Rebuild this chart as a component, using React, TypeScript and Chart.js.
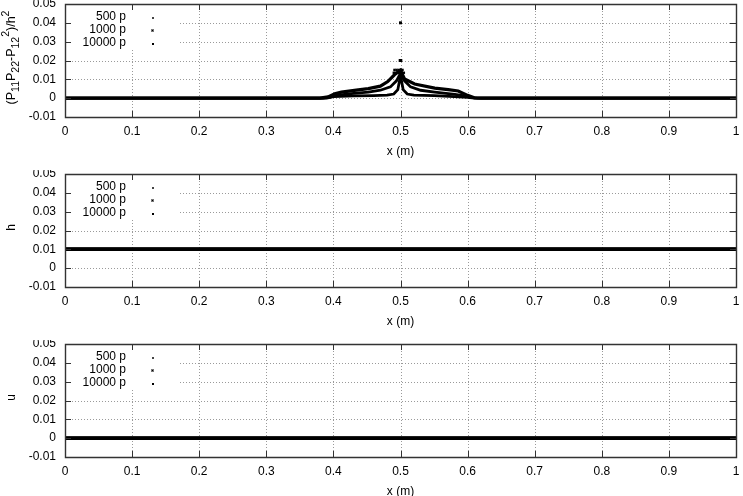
import React, { useEffect, useRef } from "react";
import { Chart, registerables } from "chart.js";

Chart.register(...registerables);

const FONT = '"Liberation Sans", Arial, Helvetica, sans-serif';

// ---- axis ticks ----
const xTickValues = [0, 0.1, 0.2, 0.3, 0.4, 0.5, 0.6, 0.7, 0.8, 0.9, 1];
const xTickLabels = ["0", "0.1", "0.2", "0.3", "0.4", "0.5", "0.6", "0.7", "0.8", "0.9", "1"];
const yTickValues = [-0.01, 0, 0.01, 0.02, 0.03, 0.04, 0.05];
const yTickLabels = ["-0.01", "0", "0.01", "0.02", "0.03", "0.04", "0.05"];
const seriesNames = ["500 p", "1000 p", "10000 p"];

// ---- panel 1 : (P11 P22 - P12^2)/h^2 ----
const det500X = [0, 0.38, 0.392, 0.402, 0.412, 0.437, 0.452, 0.47, 0.481, 0.491, 0.5, 0.506, 0.521, 0.551, 0.571, 0.586, 0.6, 0.61, 0.62, 1];
const det500Y = [0, 0, 0.0007, 0.0023, 0.0032, 0.0044, 0.0051, 0.0064, 0.0088, 0.0124, 0.0148, 0.0102, 0.0075, 0.0053, 0.0045, 0.0038, 0.0015, 0.0002, 0, 0];
const det1000X = [0, 0.385, 0.395, 0.41, 0.43, 0.452, 0.47, 0.485, 0.494, 0.5, 0.506, 0.515, 0.53, 0.551, 0.581, 0.596, 0.607, 0.615, 1];
const det1000Y = [0, 0, 0.0006, 0.0018, 0.0026, 0.0032, 0.0042, 0.006, 0.0092, 0.0132, 0.0092, 0.006, 0.0042, 0.0032, 0.002, 0.0012, 0.0003, 0, 0];
const det10000X = [0, 0.39, 0.4, 0.43, 0.46, 0.48, 0.49, 0.496, 0.5, 0.504, 0.51, 0.52, 0.55, 0.58, 0.6, 0.61, 1];
const det10000Y = [0, 0, 0.0008, 0.0012, 0.0014, 0.0016, 0.0022, 0.0045, 0.012, 0.0045, 0.0022, 0.0016, 0.0014, 0.0008, 0.0004, 0, 0];
// isolated points at the discontinuity
const spike10000X = [0.5, 0.4995, 0.5005];
const spike10000Y = [0.04, 0.02, 0.02];
const spike1000X = [0.491, 0.494, 0.497, 0.5, 0.503];
const spike1000Y = [0.015, 0.015, 0.015, 0.015, 0.015];
const spike500X = [0.49, 0.493, 0.496, 0.499, 0.502, 0.505];
const spike500Y = [0.0135, 0.0135, 0.0135, 0.0135, 0.0135, 0.0135];

// ---- panel 2 : h ----
const hX = [0, 0.25, 0.5, 0.75, 1];
const h500Y = [0.01, 0.01, 0.01, 0.01, 0.01];
const h1000Y = [0.01, 0.01, 0.01, 0.01, 0.01];
const h10000Y = [0.01, 0.01, 0.01, 0.01, 0.01];

// ---- panel 3 : u ----
const uX = [0, 0.25, 0.5, 0.75, 1];
const u500Y = [0, 0, 0, 0, 0];
const u1000Y = [0, 0, 0, 0, 0];
const u10000Y = [0, 0, 0, 0, 0];

const Y_MIN = -0.01;
const Y_MAX = 0.05;
const PLOT_H = 113;
const TOP_PAD = 4;

function pts(xs: number[], ys: number[]) {
  return xs.map((x, i) => ({ x, y: ys[i] }));
}

function lineDs(xs: number[], ys: number[], w = 3.5) {
  return {
    data: pts(xs, ys),
    showLine: true,
    borderColor: "#000",
    borderWidth: w,
    pointRadius: 0,
    tension: 0,
  };
}

function pointDs(xs: number[], ys: number[], r = 1.7) {
  return {
    data: pts(xs, ys),
    showLine: false,
    pointStyle: "rect" as const,
    pointRadius: r,
    pointBorderWidth: 0,
    backgroundColor: "#000",
    borderColor: "#000",
  };
}

type TitleKind = "det" | "h" | "u";

function drawYTitle(ctx: CanvasRenderingContext2D, kind: TitleKind, cy: number) {
  ctx.save();
  ctx.translate(11, cy);
  ctx.rotate(-Math.PI / 2);
  ctx.fillStyle = "#000";
  ctx.textBaseline = "alphabetic";
  ctx.textAlign = "left";
  if (kind !== "det") {
    ctx.font = `12px ${FONT}`;
    ctx.textAlign = "center";
    ctx.fillText(kind, 0, 4);
    ctx.restore();
    return;
  }
  const segs: { t: string; k: number }[] = [
    { t: "(P", k: 0 },
    { t: "11", k: -1 },
    { t: "P", k: 0 },
    { t: "22", k: -1 },
    { t: "-P", k: 0 },
    { t: "12", k: -1 },
    { t: "2", k: 1 },
    { t: ")/h", k: 0 },
    { t: "2", k: 1 },
  ];
  const fontFor = (k: number) => (k === 0 ? `12.5px ${FONT}` : `10.5px ${FONT}`);
  let total = 0;
  for (const s of segs) {
    ctx.font = fontFor(s.k);
    total += ctx.measureText(s.t).width;
  }
  let x = -total / 2;
  for (const s of segs) {
    ctx.font = fontFor(s.k);
    const yOff = s.k === 0 ? 4 : s.k < 0 ? 8 : -2;
    ctx.fillText(s.t, x, yOff);
    x += ctx.measureText(s.t).width;
  }
  ctx.restore();
}

function drawFrame(chart: any) {
  const { ctx, chartArea, scales } = chart;
  const xs = scales.x;
  const ys = scales.y;
  const L = Math.round(chartArea.left);
  const R = Math.round(chartArea.right);
  const T = Math.round(chartArea.top);
  const B = Math.round(chartArea.bottom);
  ctx.save();
  ctx.globalAlpha = 1;
  ctx.globalCompositeOperation = "source-over";
  ctx.setLineDash([]);
  ctx.strokeStyle = "#333333";
  ctx.lineWidth = 1;
  const TL = 6;
  ctx.beginPath();
  for (const v of yTickValues) {
    const py = Math.round(ys.getPixelForValue(v)) + 0.5;
    ctx.moveTo(L, py);
    ctx.lineTo(L + TL, py);
    ctx.moveTo(R, py);
    ctx.lineTo(R - TL, py);
  }
  for (const v of xTickValues) {
    const px = Math.round(xs.getPixelForValue(v)) + 0.5;
    ctx.moveTo(px, B);
    ctx.lineTo(px, B - TL);
    ctx.moveTo(px, T);
    ctx.lineTo(px, T + TL);
  }
  ctx.stroke();
  ctx.lineWidth = 1.4;
  ctx.beginPath();
  ctx.moveTo(L + 0.5, T + 0.5);
  ctx.lineTo(R + 0.5, T + 0.5);
  ctx.lineTo(R + 0.5, B + 0.5);
  ctx.lineTo(L + 0.5, B + 0.5);
  ctx.closePath();
  ctx.stroke();
  ctx.restore();
}

function gnuplotPlugin(kind: TitleKind) {
  return {
    id: "gnuplotLook",
    beforeDatasetsDraw(chart: any) {
      const { ctx, chartArea, scales } = chart;
      const { left, right, top, bottom } = chartArea;
      const xs = scales.x;
      const ys = scales.y;
      ctx.save();
      // dotted grid (drawn as 1px dots)
      ctx.fillStyle = "#9a9a9a";
      for (const v of yTickValues) {
        if (v <= Y_MIN || v >= Y_MAX) continue;
        const py = Math.round(ys.getPixelForValue(v));
        for (let px = Math.round(left) + 1; px < right; px += 3) ctx.fillRect(px, py, 1, 1);
      }
      for (const v of xTickValues) {
        if (v <= 0 || v >= 1) continue;
        const px = Math.round(xs.getPixelForValue(v));
        for (let py = Math.round(top) + 1; py < bottom; py += 3) ctx.fillRect(px, py, 1, 1);
      }
      // opaque key box
      ctx.fillStyle = "#fff";
      ctx.fillRect(left + 1, top + 1, 114, 45);
      ctx.restore();
    },
    afterDraw(chart: any) {
      const { ctx, chartArea } = chart;
      const { left, right, top, bottom } = chartArea;
      drawFrame(chart);
      ctx.save();
      // key
      ctx.font = `12px ${FONT}`;
      ctx.textAlign = "right";
      ctx.textBaseline = "middle";
      seriesNames.forEach((name, i) => {
        const cy = Math.round(top) + 13 + i * 13;
        ctx.fillStyle = "#000";
        ctx.fillText(name, left + 61, cy);
        const mx = Math.round(left) + 87;
        if (i === 0) {
          ctx.fillStyle = "#444";
          ctx.fillRect(mx, cy, 2, 2);
        } else if (i === 1) {
          ctx.fillStyle = "#777";
          ctx.fillRect(mx - 1, cy - 1, 3, 3);
          ctx.fillStyle = "#000";
          ctx.fillRect(mx, cy, 1, 1);
        } else {
          ctx.fillStyle = "#000";
          ctx.fillRect(mx, cy, 2, 2);
        }
      });
      // titles
      ctx.textAlign = "center";
      ctx.textBaseline = "middle";
      ctx.fillStyle = "#000";
      ctx.font = `12px ${FONT}`;
      ctx.fillText("x (m)", (left + right) / 2, bottom + 35);
      drawYTitle(ctx, kind, (top + bottom) / 2 - 3);
      ctx.restore();
    },
  };
}

function makeChart(canvas: HTMLCanvasElement, height: number, datasets: any[], kind: TitleKind) {
  return new Chart(canvas, {
    type: "scatter",
    data: { datasets },
    plugins: [gnuplotPlugin(kind)],
    options: {
      animation: false,
      responsive: false,
      devicePixelRatio: 1,
      events: [],
      layout: { padding: { top: TOP_PAD, right: 7, left: 0, bottom: 0 } },
      plugins: { legend: { display: false }, tooltip: { enabled: false } },
      scales: {
        x: {
          type: "linear",
          min: 0,
          max: 1,
          grid: { display: false, drawTicks: false },
          border: { display: false },
          afterBuildTicks: (s: any) => {
            s.ticks = xTickValues.map((v) => ({ value: v }));
          },
          afterFit: (s: any) => {
            s.height = height - TOP_PAD - PLOT_H;
            s.paddingLeft = 0;
            s.paddingRight = 0;
          },
          ticks: {
            autoSkip: false,
            maxRotation: 0,
            padding: 7,
            color: "#000",
            font: { family: FONT, size: 12 },
            callback: (_v: any, i: number) => xTickLabels[i],
          },
        },
        y: {
          type: "linear",
          min: Y_MIN,
          max: Y_MAX,
          grid: { display: false, drawTicks: false },
          border: { display: false },
          afterBuildTicks: (s: any) => {
            s.ticks = yTickValues.map((v) => ({ value: v }));
          },
          afterFit: (s: any) => {
            s.width = 65;
            s.paddingTop = 0;
            s.paddingBottom = 0;
          },
          ticks: {
            autoSkip: false,
            padding: 9,
            color: "#000",
            font: { family: FONT, size: 12 },
            callback: (_v: any, i: number) => yTickLabels[i],
          },
        },
      },
    } as any,
  });
}

const PANEL_TOPS = [0, 170, 340];
const PANEL_HEIGHTS = [165, 165, 156];

export default function App() {
  const r1 = useRef<HTMLCanvasElement>(null);
  const r2 = useRef<HTMLCanvasElement>(null);
  const r3 = useRef<HTMLCanvasElement>(null);

  useEffect(() => {
    const charts: Chart[] = [];
    if (r1.current) {
      charts.push(
        makeChart(
          r1.current,
          PANEL_HEIGHTS[0],
          [
            lineDs(det500X, det500Y, 3.2),
            lineDs(det1000X, det1000Y, 2.8),
            lineDs(det10000X, det10000Y, 2.8),
            pointDs(spike500X, spike500Y),
            pointDs(spike1000X, spike1000Y),
            pointDs(spike10000X, spike10000Y, 2.1),
          ],
          "det"
        )
      );
    }
    if (r2.current) {
      charts.push(
        makeChart(
          r2.current,
          PANEL_HEIGHTS[1],
          [lineDs(hX, h500Y), lineDs(hX, h1000Y), lineDs(hX, h10000Y)],
          "h"
        )
      );
    }
    if (r3.current) {
      charts.push(
        makeChart(
          r3.current,
          PANEL_HEIGHTS[2],
          [lineDs(uX, u500Y), lineDs(uX, u1000Y), lineDs(uX, u10000Y)],
          "u"
        )
      );
    }
    return () => charts.forEach((c) => c.destroy());
  }, []);

  const refs = [r1, r2, r3];
  return (
    <div
      style={{
        position: "fixed",
        left: 0,
        top: 0,
        width: 743,
        height: 496,
        overflow: "hidden",
        background: "#fff",
      }}
    >
      {refs.map((r, i) => (
        <canvas
          key={i}
          ref={r}
          width={743}
          height={PANEL_HEIGHTS[i]}
          style={{
            position: "absolute",
            left: 0,
            top: PANEL_TOPS[i],
            width: 743,
            height: PANEL_HEIGHTS[i],
          }}
        />
      ))}
    </div>
  );
}
